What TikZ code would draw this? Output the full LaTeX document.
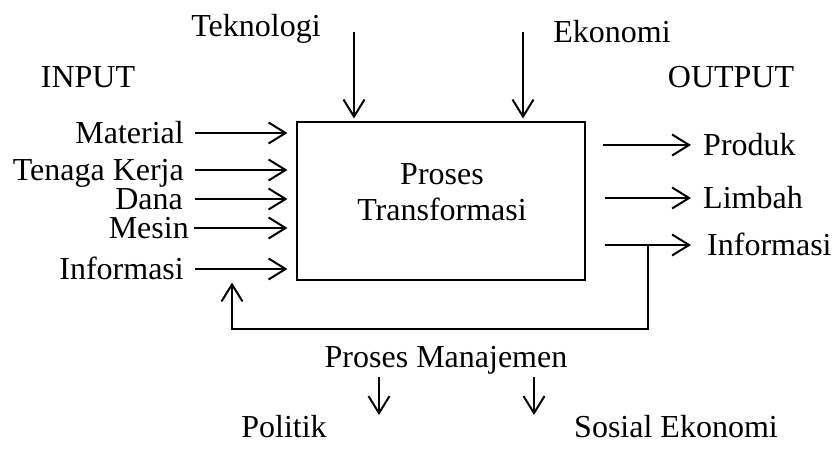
\documentclass[tikz,border=0pt]{standalone}
\usepackage{fontspec}
\setmainfont{Liberation Serif}
\usetikzlibrary{arrows.meta}
\begin{document}
\begin{tikzpicture}[x=1pt,y=-1pt,
  lbl/.style={inner sep=0pt,text height=21pt,text depth=0pt,font=\fontsize{32}{36}\selectfont},
  arr/.style={line width=2pt,-{Straight Barb[length=17pt,width=21pt,line width=2pt]}},
  boxstyle/.style={draw,line width=1.1pt,minimum width=288pt,minimum height=158pt,inner sep=0pt}]
\useasboundingbox (0,0) rectangle (832,449);
% main box
\node[boxstyle] (box) at (441,201) {};
\node[inner sep=0pt,align=center,font=\fontsize{32}{36}\selectfont] (pt) at (442,192) {Proses\\Transformasi};
% headings
\node[lbl] (inp) at (88,77) {INPUT};
\node[lbl] (outp) at (731,77) {OUTPUT};
\node[lbl] (tek) at (256,26) {Teknologi};
\node[lbl] (eko) at (612,32) {Ekonomi};
% inputs
\node[lbl,anchor=east] (mat) at (184,133) {Material};
\node[lbl,anchor=east] (tk) at (184,170) {Tenaga Kerja};
\node[lbl,anchor=east] (dana) at (183,199) {Dana};
\node[lbl,anchor=east] (mes) at (189,228) {Mesin};
\node[lbl,anchor=east] (infi) at (184,269) {Informasi};
\draw[arr] ([xshift=11pt]mat.east) -- ([xshift=-9pt]box.west |- mat.east);
\draw[arr] ([xshift=11pt]tk.east) -- ([xshift=-9pt]box.west |- tk.east);
\draw[arr] ([xshift=12pt]dana.east) -- ([xshift=-9pt]box.west |- dana.east);
\draw[arr] ([xshift=5pt]mes.east) -- ([xshift=-9pt]box.west |- mes.east);
\draw[arr] ([xshift=11pt]infi.east) -- ([xshift=-9pt]box.west |- infi.east);
% outputs
\node[lbl,anchor=west] (prod) at (703,145) {Produk};
\node[lbl,anchor=west] (limb) at (703,198) {Limbah};
\node[lbl,anchor=west] (info) at (707,245) {Informasi};
\draw[arr] ([xshift=17pt]box.east |- prod.west) -- ([xshift=-12pt]prod.west);
\draw[arr] ([xshift=19pt]box.east |- limb.west) -- ([xshift=-12pt]limb.west);
\draw[arr] ([xshift=19pt]box.east |- info.west) -- ([xshift=-16pt]info.west);
% feedback
\coordinate (fbr) at (648,245);
\coordinate (fbl) at (232,329);
\draw[arr] (fbr) |- (fbl) -- ([yshift=-2pt]fbl |- box.south);
% top arrows
\coordinate (t1) at (354,32);
\coordinate (t2) at (523,32);
\draw[arr] (t1) -- ([yshift=3pt]t1 |- box.north);
\draw[arr] (t2) -- ([yshift=3pt]t2 |- box.north);
% bottom
\node[lbl] (pm) at (446,357) {Proses Manajemen};
\node[lbl] (pol) at (284,427) {Politik};
\node[lbl] (sos) at (676,427) {Sosial Ekonomi};
\coordinate (b1) at (379,377);
\coordinate (b2) at (534,377);
\draw[arr] (b1) -- ++(0,38);
\draw[arr] (b2) -- ++(0,38);
\end{tikzpicture}
\end{document}
